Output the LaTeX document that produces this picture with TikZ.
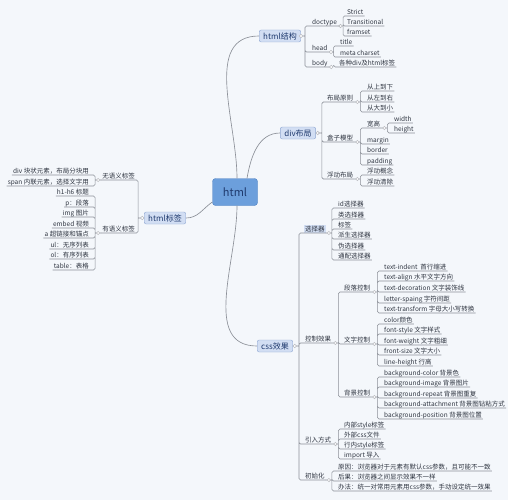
\documentclass[tikz,border=0pt]{standalone}
\usepackage{fontspec}
\setmainfont{Noto Sans CJK SC}

\definecolor{bgcol}{HTML}{F4F7FB}
\definecolor{linecol}{HTML}{8C9098}
\definecolor{txtcol}{HTML}{2E3440}
\definecolor{topicfill}{HTML}{D2DEF3}
\definecolor{topicline}{HTML}{8EA7D2}
\definecolor{topictext}{HTML}{1F3A6E}
\definecolor{rootfill}{HTML}{6C9FDC}
\definecolor{rootline}{HTML}{4E80C0}
\colorlet{selfill}{topicfill}

\begin{document}
\begin{tikzpicture}[x=1pt, y=-1pt,
          root/.style={draw=rootline, fill=rootfill, rounded corners=3pt, text=topictext,
                       font=\fontsize{11}{12}\selectfont, minimum width=45pt, minimum height=27pt},
          topic/.style={draw=topicline, fill=topicfill, rounded corners=2pt, text=topictext,
                        font=\fontsize{8}{9}\selectfont, inner xsep=4pt, inner ysep=0pt,
                        minimum height=12pt},
          leaf/.style={font=\fontsize{6.5}{7}\selectfont, text=txtcol, anchor=south west,
                       inner xsep=1pt, inner ysep=0.4pt, text height=5.4pt, text depth=1.3pt},
          lleaf/.style={leaf, anchor=south east},
          edge/.style={draw=linecol, line width=0.55pt, rounded corners=1.5pt},
          curve/.style={draw=linecol, line width=0.65pt},
          fold/.style={circle, draw=linecol!60, fill=white, inner sep=0pt, minimum size=3.4pt}
        ]
        % background, fixes the page size
        \fill[bgcol] (0,0) rectangle (508,500);

        % ---- centre + main topics ----
        \node[root]  (root)   at (235,192) {html};
        \node[topic] (struct) at (280,36)  {html结构};
        \node[topic] (layout) at (298,133) {div布局};
        \node[topic] (tags)   at (165,218) {html标签};
        \node[topic] (css)    at (275,346) {css效果};

        \draw[curve] ([xshift=2pt]root.north) to[out=90,in=180] (struct.west);
        \draw[curve] ([xshift=12pt]root.north) to[out=80,in=180] (layout.west);
        \draw[curve] ([xshift=2pt]root.south) to[out=-90,in=180] (css.west);
        \draw[curve] ([yshift=-10pt]root.west) to[out=215,in=0] (tags.east);

        % ---- html结构 ----
        \node[leaf] (doctype)  at (311,26)  {doctype};
        \node[leaf] (head)     at (311,52)  {head};
        \node[leaf] (body)     at (311,67)  {body};
        \node[leaf] (strict)   at (346,16)  {Strict};
        \node[leaf] (transit)  at (346,26)  {Transitional};
        \node[leaf] (frameset) at (346,36)  {framset};
        \node[leaf] (title)    at (339,46)  {title};
        \node[leaf] (meta)     at (339,57)  {meta charset};
        \node[leaf] (alltags)  at (338,67)  {各种div及html标签};

        \draw[edge] (struct.east) -- ++(4,0) coordinate (struct-b) node[fold, pos=0]{}
          (struct-b) |- (doctype.south east) (struct-b) |- (head.south east)
          (struct-b) |- (body.south east);
        \draw[edge] (doctype.south east) -- ++(5,0) coordinate (doctype-b) node[fold, midway]{}
          (doctype-b) |- (strict.south east) (doctype-b) |- (transit.south east)
          (doctype-b) |- (frameset.south east);
        \draw[edge] (head.south east) -- ++(5,0) coordinate (head-b) node[fold, midway]{}
          (head-b) |- (title.south east) (head-b) |- (meta.south east);
        \draw[edge] (body.south east) -- ++(5,0) node[fold, midway]{} |- (alltags.south east);

        % ---- div布局 ----
        \node[leaf] (principle)  at (326,102) {布局原则};
        \node[leaf] (boxmodel)   at (326,142) {盒子模型};
        \node[leaf] (floatlay)   at (326,179) {浮动布局};
        \node[leaf] (topdown)    at (366,91)  {从上到下};
        \node[leaf] (leftright)  at (366,102) {从左到右};
        \node[leaf] (bigsmall)   at (366,112) {从大到小};
        \node[leaf] (wh)         at (366,128) {宽高};
        \node[leaf] (margin)     at (366,144) {margin};
        \node[leaf] (border)     at (366,154) {border};
        \node[leaf] (padding)    at (366,165) {padding};
        \node[leaf] (width)      at (393,123) {width};
        \node[leaf] (height)     at (393,133) {height};
        \node[leaf] (floatidea)  at (366,175) {浮动概念};
        \node[leaf] (floatclear) at (366,186) {浮动清除};

        \draw[edge] (layout.east) -- ++(6,0) coordinate (layout-b) node[fold, pos=0.3]{}
          (layout-b) |- (principle.south east) (layout-b) |- (boxmodel.south east)
          (layout-b) |- (floatlay.south east);
        \draw[edge] (principle.south east) -- ++(6,0) coordinate (principle-b) node[fold, midway]{}
          (principle-b) |- (topdown.south east) (principle-b) |- (leftright.south east)
          (principle-b) |- (bigsmall.south east);
        \draw[edge] (boxmodel.south east) -- ++(6,0) coordinate (boxmodel-b) node[fold, midway]{}
          (boxmodel-b) |- (wh.south east) (boxmodel-b) |- (margin.south east)
          (boxmodel-b) |- (border.south east) (boxmodel-b) |- (padding.south east);
        \draw[edge] (wh.south east) -- ++(6,0) coordinate (wh-b) node[fold, midway]{}
          (wh-b) |- (width.south east) (wh-b) |- (height.south east);
        \draw[edge] (floatlay.south east) -- ++(6,0) coordinate (floatlay-b) node[fold, midway]{}
          (floatlay-b) |- (floatidea.south east) (floatlay-b) |- (floatclear.south east);

        % ---- html标签 (left side) ----
        \node[lleaf] (nosem)    at (136,180) {无语义标签};
        \node[lleaf] (sem)      at (136,233) {有语义标签};
        \node[lleaf] (divtag)   at (90,175)  {div 块状元素，布局分块用};
        \node[lleaf] (spantag)  at (90,186)  {span 内联元素，选择文字用};
        \node[lleaf] (htag)     at (90,196)  {h1-h6 标题};
        \node[lleaf] (ptag)     at (90,207)  {p：段落};
        \node[lleaf] (imgtag)   at (90,217)  {img 图片};
        \node[lleaf] (embedtag) at (90,228)  {embed 视频};
        \node[lleaf] (atag)     at (90,238)  {a 超链接和锚点};
        \node[lleaf] (ultag)    at (90,249)  {ul：无序列表};
        \node[lleaf] (oltag)    at (90,259)  {ol：有序列表};
        \node[lleaf] (tabletag) at (90,270)  {table：表格};

        \draw[edge] (tags.west) -- ++(-6,0) coordinate (tags-b) node[fold, pos=0.3]{}
          (tags-b) |- (nosem.south west) (tags-b) |- (sem.south west);
        \draw[edge] (nosem.south west) -- ++(-6,0) coordinate (nosem-b) node[fold, midway]{}
          (nosem-b) |- (divtag.south west) (nosem-b) |- (spantag.south west);
        \draw[edge] (sem.south west) -- ++(-6,0) coordinate (sem-b) node[fold, midway]{}
          (sem-b) |- (htag.south west) (sem-b) |- (ptag.south west)
          (sem-b) |- (imgtag.south west) (sem-b) |- (embedtag.south west)
          (sem-b) |- (atag.south west) (sem-b) |- (ultag.south west)
          (sem-b) |- (oltag.south west) (sem-b) |- (tabletag.south west);

        % ---- css效果 ----
        \node[leaf, fill=selfill] (selector) at (304,233) {选择器};
        \node[leaf] (ctrl)   at (304,343) {控制效果};
        \node[leaf] (usage)  at (304,444) {引入方式};
        \node[leaf] (init)   at (304,480) {初始化};

        % selectors
        \node[leaf] (idsel)     at (337,208) {id选择器};
        \node[leaf] (classsel)  at (337,219) {类选择器};
        \node[leaf] (tagsel)    at (337,229) {标签};
        \node[leaf] (derivsel)  at (337,239) {派生选择器};
        \node[leaf] (pseudosel) at (337,250) {伪选择器};
        \node[leaf] (wildsel)   at (337,260) {通配选择器};

        % control groups
        \node[leaf] (para)    at (343,292) {段落控制};
        \node[leaf] (textctl) at (343,344) {文字控制};
        \node[leaf] (bgctl)   at (343,397) {背景控制};

        \node[leaf] (tindent) at (383,271) {text-indent\ \ 首行缩进};
        \node[leaf] (talign)  at (383,281) {text-align 水平文字方向};
        \node[leaf] (tdeco)   at (383,292) {text-decoration 文字装饰线};
        \node[leaf] (lspace)  at (383,303) {letter-spaing 字符间距};
        \node[leaf] (ttrans)  at (383,313) {text-transform 字母大小写转换};

        \node[leaf] (fcolor)  at (383,324) {color颜色};
        \node[leaf] (fstyle)  at (383,334) {font-style 文字样式};
        \node[leaf] (fweight) at (383,345) {font-weight 文字粗细};
        \node[leaf] (fsize)   at (383,355) {front-size 文字大小};
        \node[leaf] (lheight) at (383,366) {line-height 行高};

        \node[leaf] (bgcolor)  at (383,377) {background-color 背景色};
        \node[leaf] (bgimage)  at (383,387) {background-image 背景图片};
        \node[leaf] (bgrepeat) at (383,398) {background-repeat 背景图重复};
        \node[leaf] (bgattach) at (383,408) {background-attachment 背景图钻粘方式};
        \node[leaf] (bgpos)    at (383,419) {background-position 背景图位置};

        % usage + init
        \node[leaf] (inner)   at (343,429) {内部style标签};
        \node[leaf] (outer)   at (343,439) {外部css文件};
        \node[leaf] (inline)  at (343,449) {行内style标签};
        \node[leaf] (imp)     at (343,459) {import 导入};

        \node[leaf] (reason)  at (337,471) {原因：浏览器对于元素有默认css参数，且可能不一致};
        \node[leaf] (result)  at (337,481) {后果：浏览器之间显示效果不一样};
        \node[leaf] (method)  at (337,491) {办法：统一对常用元素用css参数，手动设定统一效果};

        \draw[edge] (css.east) -- ++(6,0) coordinate (css-b) node[fold, pos=0.3]{}
          (css-b) |- (selector.south east) (css-b) |- (ctrl.south east)
          (css-b) |- (usage.south east) (css-b) |- (init.south east);
        \draw[edge] (selector.south east) -- ++(6,0) coordinate (selector-b) node[fold, midway]{}
          (selector-b) |- (idsel.south east) (selector-b) |- (classsel.south east)
          (selector-b) |- (tagsel.south east) (selector-b) |- (derivsel.south east)
          (selector-b) |- (pseudosel.south east) (selector-b) |- (wildsel.south east);
        \draw[edge] (ctrl.south east) -- ++(6,0) coordinate (ctrl-b) node[fold, midway]{}
          (ctrl-b) |- (para.south east) (ctrl-b) |- (textctl.south east)
          (ctrl-b) |- (bgctl.south east);
        \draw[edge] (para.south east) -- ++(6,0) coordinate (para-b) node[fold, midway]{}
          (para-b) |- (tindent.south east) (para-b) |- (talign.south east)
          (para-b) |- (tdeco.south east) (para-b) |- (lspace.south east)
          (para-b) |- (ttrans.south east);
        \draw[edge] (textctl.south east) -- ++(6,0) coordinate (textctl-b) node[fold, midway]{}
          (textctl-b) |- (fcolor.south east) (textctl-b) |- (fstyle.south east)
          (textctl-b) |- (fweight.south east) (textctl-b) |- (fsize.south east)
          (textctl-b) |- (lheight.south east);
        \draw[edge] (bgctl.south east) -- ++(6,0) coordinate (bgctl-b) node[fold, midway]{}
          (bgctl-b) |- (bgcolor.south east) (bgctl-b) |- (bgimage.south east)
          (bgctl-b) |- (bgrepeat.south east) (bgctl-b) |- (bgattach.south east)
          (bgctl-b) |- (bgpos.south east);
        \draw[edge] (usage.south east) -- ++(6,0) coordinate (usage-b) node[fold, midway]{}
          (usage-b) |- (inner.south east) (usage-b) |- (outer.south east)
          (usage-b) |- (inline.south east) (usage-b) |- (imp.south east);
        \draw[edge] (init.south east) -- ++(6,0) coordinate (init-b) node[fold, midway]{}
          (init-b) |- (reason.south east) (init-b) |- (result.south east)
          (init-b) |- (method.south east);

      \end{tikzpicture}
\end{document}
